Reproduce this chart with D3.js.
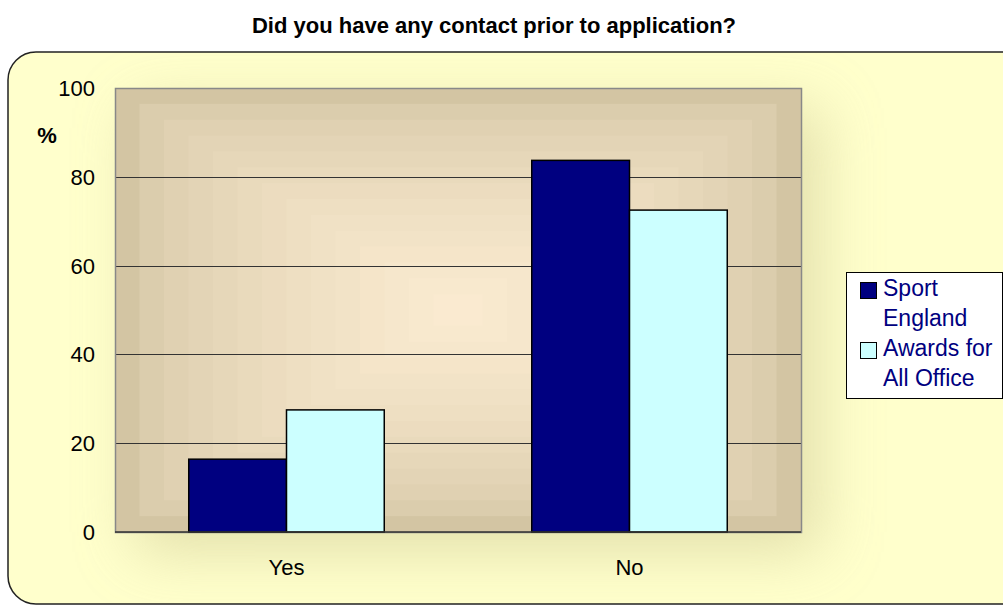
<!doctype html>
<html>
<head>
<style>
  body { margin: 0; background: white; }
  text { font-family: "Liberation Sans", Arial, Helvetica, sans-serif; }
</style>
<script src="https://d3js.org/d3.v7.min.js"></script>
</head>
<body>
<div id="chart"></div>
<script>
// data
var categories = ["Yes", "No"];
var seriesNames = ["Sport England", "Awards for All Office"];
var sportEngland = [16.4, 83.7];
var awardsForAll = [27.5, 72.5];
var yTicks = [0, 20, 40, 60, 80, 100];

var width = 1003, height = 605;
var plot = {left: 115, right: 801, top: 88, bottom: 532};

var svg = d3.select("#chart").append("svg")
  .attr("width", width)
  .attr("height", height);

var defs = svg.append("defs");
var blur = defs.append("filter").attr("id", "blur")
  .attr("x", "-30%").attr("y", "-30%").attr("width", "160%").attr("height", "160%");
blur.append("feGaussianBlur").attr("stdDeviation", 30);

var clip = defs.append("clipPath").attr("id", "frameclip");
clip.append("rect").attr("x", 8).attr("y", 52).attr("width", 1030).attr("height", 552).attr("rx", 28);

// title
svg.append("text")
  .attr("x", 494).attr("y", 33)
  .attr("text-anchor", "middle")
  .style("font-size", "22px").style("font-weight", "bold")
  .text("Did you have any contact prior to application?");

// chart area frame
svg.append("rect")
  .attr("x", 8).attr("y", 52).attr("width", 1030).attr("height", 552).attr("rx", 28)
  .attr("fill", "#ffffcc");

// soft shadow behind the plot area
svg.append("g").attr("clip-path", "url(#frameclip)")
  .append("rect")
  .attr("x", plot.left + 20).attr("y", plot.top + 20)
  .attr("width", plot.right - plot.left).attr("height", plot.bottom - plot.top)
  .attr("fill", "#d9d6a0").attr("opacity", 0.75)
  .attr("filter", "url(#blur)");

svg.append("rect")
  .attr("x", 8).attr("y", 52).attr("width", 1030).attr("height", 552).attr("rx", 28)
  .attr("fill", "none").attr("stroke", "#222").attr("stroke-width", 1.5);

// plot area rectangular stepped gradient
var steps = 14;
var shade = d3.interpolateRgb("#d3c5a3", "#fcecd2");
var pw = plot.right - plot.left, ph = plot.bottom - plot.top;
for (var i = 0; i < steps; i++) {
  var f = i / steps;
  svg.append("rect")
    .attr("x", plot.left + f * pw / 2)
    .attr("y", plot.top + f * ph / 2)
    .attr("width", pw * (1 - f))
    .attr("height", ph * (1 - f))
    .attr("fill", shade(Math.pow(f, 0.6)));
}

var x0 = d3.scaleBand().domain(categories).range([plot.left, plot.right]).paddingInner(0.43).paddingOuter(0.215);
var x1 = d3.scaleBand().domain(seriesNames).range([0, x0.bandwidth()]);
var y = d3.scaleLinear().domain([0, 100]).range([plot.bottom, plot.top]);

// gridlines
svg.append("g").selectAll("line")
  .data(yTicks.filter(function(d) { return d > 0 && d < 100; }))
  .enter().append("line")
  .attr("x1", plot.left).attr("x2", plot.right)
  .attr("y1", function(d) { return Math.round(y(d)) + 0.5; })
  .attr("y2", function(d) { return Math.round(y(d)) + 0.5; })
  .attr("stroke", "#333").attr("stroke-width", 1);

// plot border
svg.append("rect")
  .attr("x", plot.left + 0.5).attr("y", plot.top + 0.5)
  .attr("width", pw).attr("height", ph)
  .attr("fill", "none").attr("stroke", "#888").attr("stroke-width", 1.5);

// bars
var colors = ["#000080", "#ccffff"];
var series = [sportEngland, awardsForAll];
series.forEach(function(vals, s) {
  svg.append("g").selectAll("rect")
    .data(vals)
    .enter().append("rect")
    .attr("x", function(d, i) { return x0(categories[i]) + x1(seriesNames[s]); })
    .attr("y", function(d) { return y(d); })
    .attr("width", x1.bandwidth())
    .attr("height", function(d) { return y(0) - y(d); })
    .attr("fill", colors[s])
    .attr("stroke", "#000").attr("stroke-width", 1.5);
});

// baseline
svg.append("line")
  .attr("x1", plot.left).attr("x2", plot.right)
  .attr("y1", y(0)).attr("y2", y(0))
  .attr("stroke", "#333").attr("stroke-width", 1.5);

// y axis labels
svg.append("g").selectAll("text")
  .data(yTicks)
  .enter().append("text")
  .attr("x", 95).attr("y", function(d) { return y(d) + 8; })
  .attr("text-anchor", "end")
  .style("font-size", "22px")
  .text(function(d) { return d; });

svg.append("text")
  .attr("x", 47).attr("y", 143)
  .attr("text-anchor", "middle")
  .style("font-size", "22px").style("font-weight", "bold")
  .text("%");

// x axis labels
svg.append("g").selectAll("text")
  .data(categories)
  .enter().append("text")
  .attr("x", function(d) { return x0(d) + x0.bandwidth() / 2; })
  .attr("y", 575)
  .attr("text-anchor", "middle")
  .style("font-size", "22px")
  .text(function(d) { return d; });

// legend
var legend = svg.append("g");
legend.append("rect")
  .attr("x", 846.5).attr("y", 272.5).attr("width", 156).attr("height", 126)
  .attr("fill", "white").attr("stroke", "#000").attr("stroke-width", 1);
var legendLines = [["Sport", "England"], ["Awards for", "All Office"]];
legendLines.forEach(function(lines, s) {
  var top = 282 + s * 60;
  legend.append("rect")
    .attr("x", 860.5).attr("y", top + 0.5).attr("width", 16).attr("height", 16)
    .attr("fill", colors[s]).attr("stroke", "#000").attr("stroke-width", 1);
  lines.forEach(function(t, j) {
    legend.append("text")
      .attr("x", 883).attr("y", top + 14 + j * 30)
      .style("font-size", "23px").attr("fill", "#000080")
      .text(t);
  });
});
</script>
</body>
</html>
